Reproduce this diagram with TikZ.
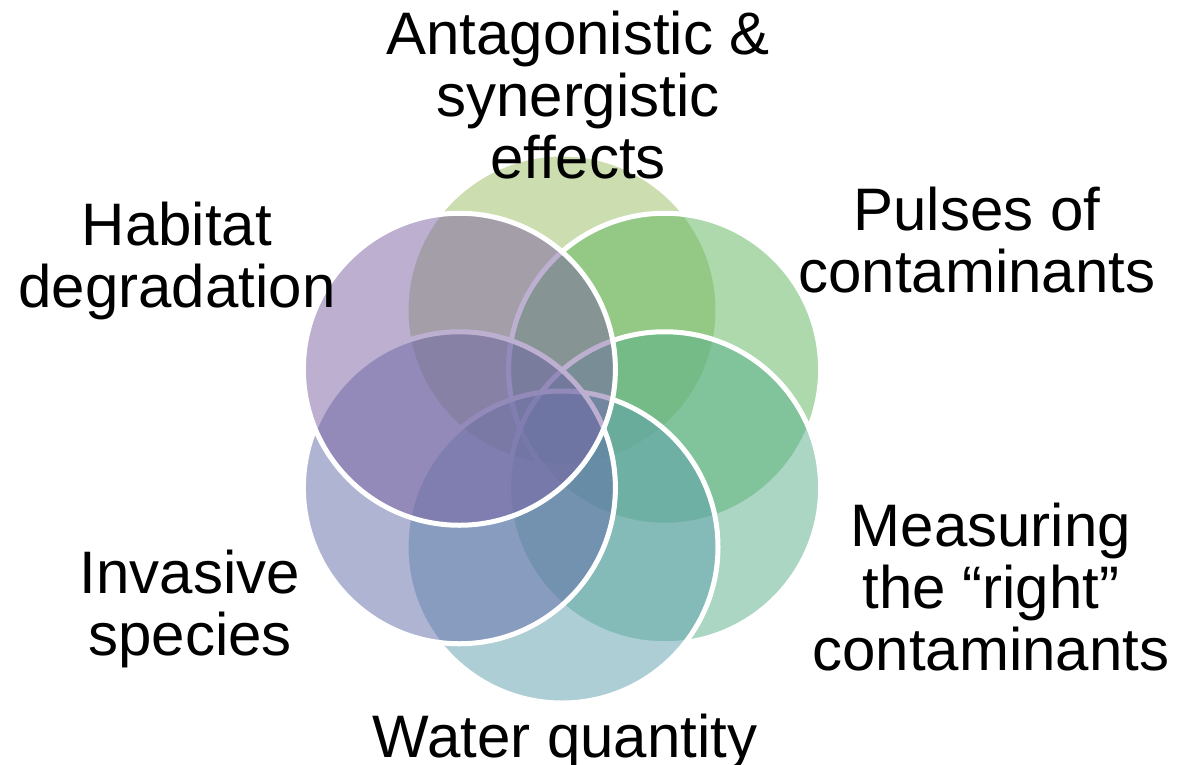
\documentclass[tikz,border=0pt]{standalone}
\usepackage{fontspec}
\setmainfont{Liberation Sans}
\usetikzlibrary{calc}
\definecolor{cTop}{RGB}{155,189,97}
\definecolor{cUR}{RGB}{93,181,93}
\definecolor{cLR}{RGB}{87,175,137}
\definecolor{cBot}{RGB}{95,159,175}
\definecolor{cLL}{RGB}{97,107,169}
\definecolor{cUL}{RGB}{123,97,163}
\tikzset{
  petal/.style={circle, inner sep=0pt, outer sep=0pt, minimum size=312pt,
    fill=#1, fill opacity=0.5, draw=white, draw opacity=1, line width=5pt},
  lbl/.style={align=center, anchor=base, inner sep=0pt, font=\fontsize{60}{62}\selectfont}
}
\begin{document}
\begin{tikzpicture}[x=1pt,y=-1pt]
\useasboundingbox (0,0) rectangle (1179,764);
\fill[white] (0,0) rectangle (1179,764);
\coordinate (ctr) at (562,428.5);
\node[petal=cTop] (p1) at ($(ctr)+(0,-118.5)$) {};
\node[petal=cUR]  (p2) at ($(ctr)+(102.6,-59.25)$) {};
\node[petal=cLR]  (p3) at ($(ctr)+(102.6,59.25)$) {};
\node[petal=cBot] (p4) at ($(ctr)+(0,118.5)$) {};
\node[petal=cLL]  (p5) at ($(ctr)+(-102.6,59.25)$) {};
\node[petal=cUL]  (p6) at ($(ctr)+(-102.6,-59.25)$) {};
\node[lbl] (t1) at (578,178) {Antagonistic \&\\synergistic\\effects};
\node[lbl] (t2) at (977,292) {Pulses of\\contaminants};
\node[lbl] (t3) at (991,670) {Measuring\\the “right”\\contaminants};
\node[lbl] (t4) at (565,757) {Water quantity};
\node[lbl] (t5) at (190,655) {Invasive\\species};
\node[lbl] (t6) at (177,307) {Habitat\\degradation};
\end{tikzpicture}
\end{document}
